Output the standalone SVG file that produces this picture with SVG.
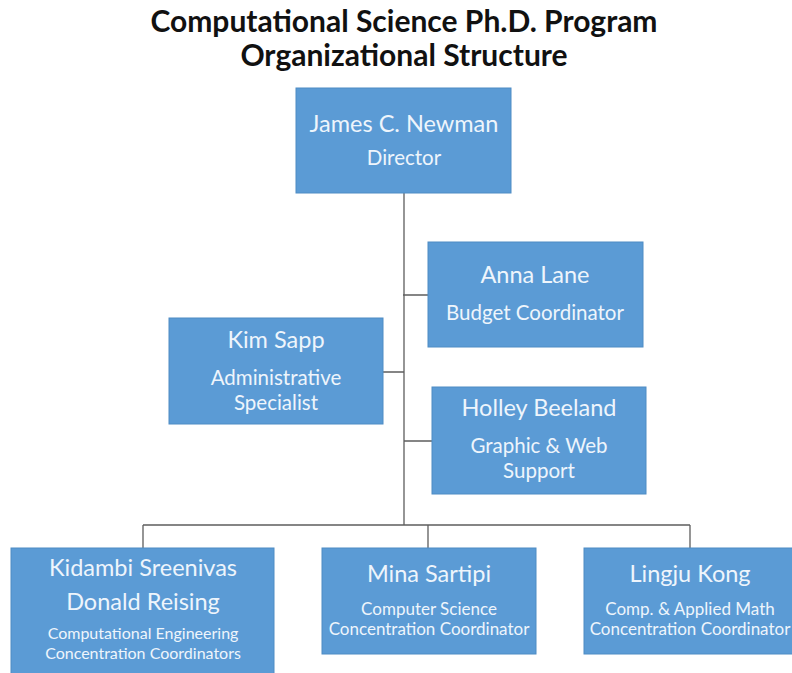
<svg xmlns="http://www.w3.org/2000/svg" width="792" height="673" viewBox="0 0 792 673">
<style>
.box{fill:#5b9bd5;stroke:#4f8cc4;stroke-width:1}
.t{font-family:Lato,"Liberation Sans",sans-serif;fill:#eef5fc;text-anchor:middle}
.n{font-size:23.5px}
.r{font-size:20.5px}
.s{font-size:17px}
.xs{font-size:16px}
.title{font-family:Lato,"Liberation Sans",sans-serif;font-weight:bold;font-size:30px;fill:#111;text-anchor:middle}
.c{stroke:#5e5e5e;stroke-width:1.3;fill:none}
</style>
<rect width="792" height="673" fill="#ffffff"/>
<text class="title" x="404" y="32">Computational Science Ph.D.  Program</text>
<text class="title" x="404" y="66">Organizational Structure</text>
<g id="connectors">
<path class="c" d="M404 193V525M403 295H428M383 372H404M404 441H432M143 525H690M143 525V548M428 525V548M690 525V548"/>
</g>
<g id="director">
<rect class="box" x="296" y="88" width="215" height="105"/>
<text class="t n" x="404" y="132">James C. Newman</text>
<text class="t r" x="404" y="165">Director</text>
</g>
<g id="anna">
<rect class="box" x="428" y="242" width="215" height="105"/>
<text class="t n" x="535" y="283">Anna Lane</text>
<text class="t r" x="535" y="320">Budget Coordinator</text>
</g>
<g id="kim">
<rect class="box" x="169" y="318" width="214" height="106"/>
<text class="t n" x="276" y="348">Kim Sapp</text>
<text class="t r" x="276" y="385">Administrative</text>
<text class="t r" x="276" y="410">Specialist</text>
</g>
<g id="holley">
<rect class="box" x="432" y="387" width="214" height="107"/>
<text class="t n" x="539" y="416">Holley Beeland</text>
<text class="t r" x="539" y="453">Graphic &amp; Web</text>
<text class="t r" x="539" y="478">Support</text>
</g>
<g id="kidambi">
<rect class="box" x="11" y="548" width="263" height="130"/>
<text class="t n" x="143" y="576">Kidambi Sreenivas</text>
<text class="t n" x="143" y="610">Donald Reising</text>
<text class="t xs" x="143" y="639">Computational Engineering</text>
<text class="t xs" x="143" y="659">Concentration Coordinators</text>
</g>
<g id="mina">
<rect class="box" x="322" y="548" width="214" height="106"/>
<text class="t n" x="429" y="582">Mina Sartipi</text>
<text class="t s" x="429" y="615">Computer Science</text>
<text class="t s" x="429" y="635">Concentration Coordinator</text>
</g>
<g id="lingju">
<rect class="box" x="584" y="548" width="214" height="106"/>
<text class="t n" x="690" y="582">Lingju Kong</text>
<text class="t s" x="690" y="615">Comp. &amp; Applied Math</text>
<text class="t s" x="690" y="635">Concentration Coordinator</text>
</g>
</svg>
